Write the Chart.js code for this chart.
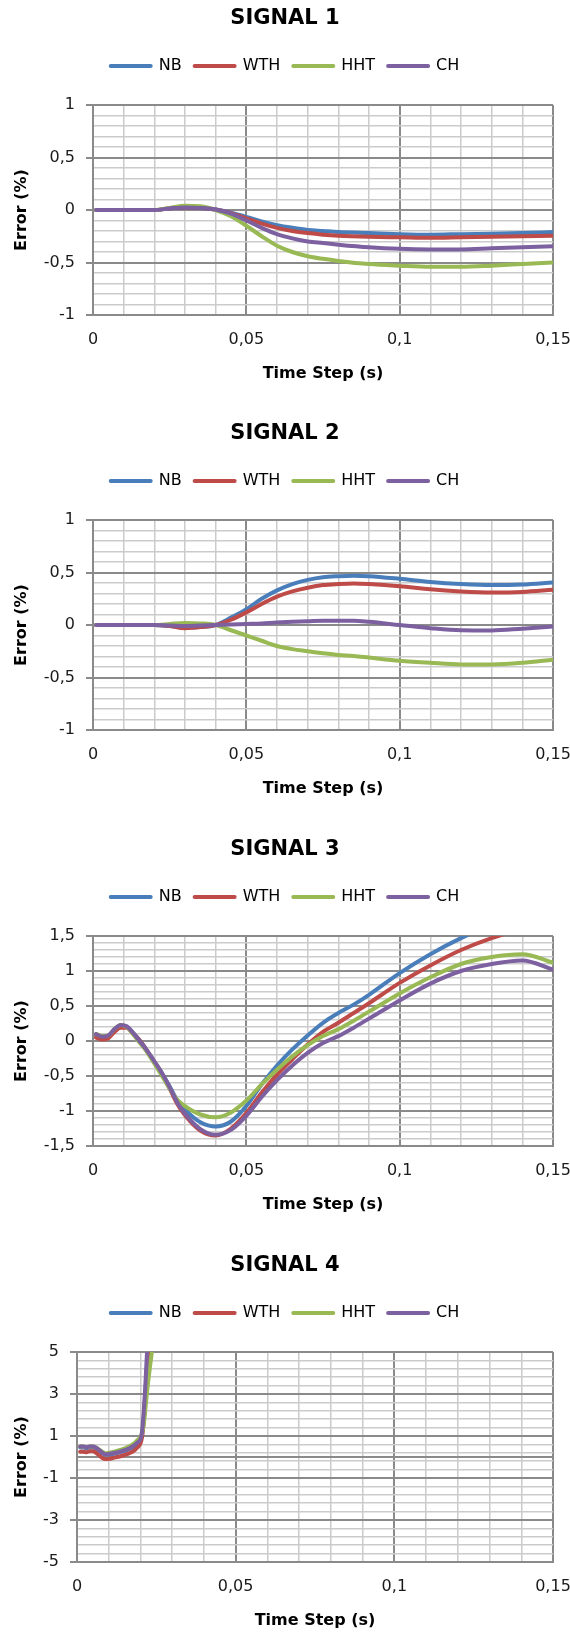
<!DOCTYPE html>
<html lang="en">
<head>
    <meta charset="UTF-8" />
    <title>Error vs Time Step</title>
    <script src="https://cdn.jsdelivr.net/npm/chart.js"></script>
    <style>
        body { margin: 0; background: #fff; }
        #page { position: relative; width: 570px; height: 1634px; }
        #page canvas { position: absolute; left: 0; }
    </style>
</head>
<body>
<div id="page">
    <canvas id="sig1" width="570" height="387" style="top:0px"></canvas>
    <canvas id="sig2" width="570" height="387" style="top:415px"></canvas>
    <canvas id="sig3" width="570" height="387" style="top:831px"></canvas>
    <canvas id="sig4" width="570" height="387" style="top:1247px"></canvas>
</div>

<script>
    const SERIES = ['NB', 'WTH', 'HHT', 'CH'];
    const COLORS = ['#4A7EBB', '#BE4B48', '#98B954', '#7D60A0'];

    // SIGNAL 1
    const time1 = [0.001, 0.005, 0.01, 0.015, 0.02, 0.025, 0.03, 0.035, 0.04, 0.045, 0.05, 0.055,
                   0.06, 0.065, 0.07, 0.075, 0.08, 0.09, 0.1, 0.11, 0.12, 0.13, 0.14, 0.15];
    const nb1  = [0, 0, 0, 0, 0, 0.015, 0.025, 0.02, 0.005, -0.025, -0.065, -0.11,
                  -0.145, -0.17, -0.19, -0.2, -0.21, -0.22, -0.23, -0.235, -0.23, -0.225, -0.22, -0.21];
    const wth1 = [0, 0, 0, 0, 0, 0.015, 0.025, 0.02, 0.005, -0.03, -0.08, -0.13,
                  -0.17, -0.2, -0.22, -0.235, -0.245, -0.255, -0.26, -0.265, -0.26, -0.255, -0.25, -0.245];
    const hht1 = [0, 0, 0, 0, 0, 0.02, 0.04, 0.035, 0, -0.06, -0.15, -0.25,
                  -0.34, -0.4, -0.44, -0.465, -0.485, -0.515, -0.53, -0.54, -0.54, -0.53, -0.515, -0.5];
    const ch1  = [0, 0, 0, 0, 0, 0.015, 0.025, 0.02, 0.005, -0.035, -0.1, -0.17,
                  -0.23, -0.27, -0.3, -0.315, -0.33, -0.355, -0.37, -0.375, -0.375, -0.365, -0.355, -0.345];

    // SIGNAL 2
    const time2 = [0.001, 0.005, 0.01, 0.015, 0.02, 0.025, 0.03, 0.035, 0.04, 0.045, 0.05, 0.055, 0.06,
                   0.065, 0.07, 0.075, 0.08, 0.085, 0.09, 0.1, 0.11, 0.12, 0.13, 0.14, 0.15];
    const nb2  = [0, 0, 0, 0, 0, -0.01, -0.025, -0.02, 0, 0.07, 0.15, 0.25, 0.33,
                  0.39, 0.43, 0.455, 0.465, 0.47, 0.465, 0.44, 0.41, 0.39, 0.38, 0.385, 0.405];
    const wth2 = [0, 0, 0, 0, 0, -0.01, -0.03, -0.02, 0, 0.05, 0.12, 0.2, 0.27,
                  0.32, 0.355, 0.38, 0.39, 0.395, 0.39, 0.37, 0.34, 0.32, 0.31, 0.315, 0.335];
    const hht2 = [0, 0, 0, 0, 0, 0.01, 0.02, 0.015, 0, -0.05, -0.1, -0.15, -0.2,
                  -0.23, -0.25, -0.27, -0.285, -0.295, -0.31, -0.34, -0.36, -0.375, -0.375, -0.36, -0.33];
    const ch2  = [0, 0, 0, 0, 0, -0.005, -0.01, -0.005, 0, 0.005, 0.01, 0.015, 0.025,
                  0.03, 0.035, 0.04, 0.04, 0.04, 0.03, 0, -0.03, -0.05, -0.052, -0.035, -0.015];

    // SIGNAL 3
    const time3 = [0.001, 0.003, 0.005, 0.007, 0.009, 0.011, 0.013, 0.015, 0.0175, 0.02, 0.0225, 0.025,
                   0.0275, 0.03, 0.035, 0.04, 0.045, 0.05, 0.055, 0.06, 0.065, 0.07, 0.075, 0.08,
                   0.085, 0.09, 0.1, 0.11, 0.12, 0.13, 0.14, 0.15];
    const nb3  = [0.08, 0.04, 0.06, 0.15, 0.21, 0.2, 0.12, 0.02, -0.13, -0.3, -0.46, -0.65,
                  -0.85, -0.98, -1.16, -1.22, -1.15, -0.93, -0.62, -0.35, -0.12, 0.08, 0.26, 0.4,
                  0.52, 0.66, 0.97, 1.24, 1.47, 1.66, 1.8, 1.88];
    const wth3 = [0.05, 0.02, 0.04, 0.13, 0.19, 0.19, 0.11, 0.02, -0.13, -0.3, -0.47, -0.68,
                  -0.9, -1.06, -1.28, -1.35, -1.25, -1.03, -0.74, -0.48, -0.26, -0.05, 0.13, 0.26,
                  0.4, 0.54, 0.83, 1.08, 1.3, 1.47, 1.6, 1.68];
    const hht3 = [0.1, 0.07, 0.08, 0.17, 0.23, 0.2, 0.1, -0.01, -0.15, -0.32, -0.5, -0.68,
                  -0.84, -0.93, -1.05, -1.09, -1.02, -0.85, -0.62, -0.41, -0.22, -0.06, 0.07, 0.17,
                  0.29, 0.42, 0.68, 0.91, 1.1, 1.2, 1.24, 1.12];
    const ch3  = [0.1, 0.06, 0.08, 0.17, 0.23, 0.21, 0.12, 0.01, -0.13, -0.29, -0.46, -0.66,
                  -0.88, -1.04, -1.26, -1.34, -1.27, -1.07, -0.8, -0.56, -0.35, -0.17, -0.03, 0.07,
                  0.19, 0.32, 0.58, 0.82, 1.0, 1.1, 1.15, 1.02];

    // SIGNAL 4
    const time4 = [0.001, 0.002, 0.003, 0.004, 0.005, 0.006, 0.007, 0.008, 0.009, 0.01, 0.012, 0.014,
                   0.016, 0.018, 0.019, 0.02, 0.0205, 0.021, 0.0215, 0.022, 0.023, 0.024, 0.025];
    const nb4  = [0.45, 0.45, 0.42, 0.45, 0.45, 0.4, 0.3, 0.18, 0.12, 0.12, 0.17, 0.25,
                  0.35, 0.5, 0.62, 0.8, 1.1, 1.8, 2.9, 4.2, 6.5, 8.5, 10];
    const wth4 = [0.25, 0.25, 0.23, 0.27, 0.27, 0.2, 0.08, -0.05, -0.1, -0.09, -0.02, 0.05,
                  0.15, 0.3, 0.45, 0.65, 0.95, 1.7, 2.8, 4.1, 6.4, 8.4, 10];
    const hht4 = [0.5, 0.5, 0.47, 0.5, 0.5, 0.45, 0.35, 0.25, 0.18, 0.2, 0.27, 0.35,
                  0.47, 0.65, 0.8, 0.95, 1.15, 1.5, 2.2, 3.0, 4.3, 5.5, 7];
    const ch4  = [0.5, 0.5, 0.46, 0.5, 0.5, 0.44, 0.33, 0.2, 0.13, 0.14, 0.2, 0.28,
                  0.38, 0.55, 0.68, 0.85, 1.2, 2.1, 3.3, 4.8, 7, 9, 11];

    Chart.defaults.font.family = '"DejaVu Sans", sans-serif';
    Chart.defaults.color = '#1a1a1a';
    Chart.defaults.animation = false;

    const MAJOR_GRID = '#8a8a8a';
    const MINOR_GRID = '#cbcbcb';

    // tick value -> "0,05" style label
    function commaNum(v) {
        return String(Math.round(v * 1000) / 1000).replace('.', ',');
    }

    function onStep(v, base, step) {
        const k = (v - base) / step;
        return Math.abs(k - Math.round(k)) < 1e-6;
    }

    // the horizontal axis of signal 4 crosses at 0, which is not a gridline
    const zeroLine = {
        id: 'zeroLine',
        beforeDatasetsDraw(chart) {
            const { ctx, chartArea, scales } = chart;
            const y = scales.y.getPixelForValue(0);
            ctx.save();
            ctx.strokeStyle = MAJOR_GRID;
            ctx.lineWidth = 2;
            ctx.beginPath();
            ctx.moveTo(chartArea.left, y);
            ctx.lineTo(chartArea.right, y);
            ctx.stroke();
            ctx.restore();
        }
    };

    function signalChart(id, title, time, series, yMin, yMax, yMinor, yMajor, axisLeft, extra) {
        const datasets = series.map((vals, i) => ({
            label: SERIES[i],
            data: time.map((t, k) => ({ x: t, y: vals[k] })),
            xAxisID: 'x',
            yAxisID: 'y',
            borderColor: COLORS[i],
            backgroundColor: COLORS[i],
            borderWidth: 4,
            borderCapStyle: 'round',
            borderJoinStyle: 'round',
            pointRadius: 0,
            cubicInterpolationMode: 'monotone',
            order: SERIES.length - i   // later series drawn on top
        }));

        const xMajor = v => onStep(v, 0, 0.05);
        const yIsMajor = v => onStep(v, yMin, yMajor);

        return new Chart(document.getElementById(id), {
            type: 'line',
            data: { datasets },
            plugins: extra ? [extra] : [],
            options: {
                responsive: false,
                devicePixelRatio: 1,
                layout: { padding: 0 },
                plugins: {
                    title: {
                        display: true,
                        text: title,
                        color: '#000',
                        font: { size: 21, weight: 'bold' },
                        padding: { top: 6.4, bottom: 13.4 }
                    },
                    legend: {
                        position: 'top',
                        labels: {
                            boxWidth: 40,
                            boxHeight: 0,
                            padding: 13,
                            color: '#000',
                            font: { size: 16 },
                            sort: (a, b) => a.datasetIndex - b.datasetIndex
                        }
                    },
                    tooltip: { enabled: false }
                },
                scales: {
                    // empty band between the legend and the plot
                    gap: {
                        type: 'linear',
                        axis: 'x',
                        position: 'top',
                        grid: { display: false },
                        border: { display: false },
                        ticks: { display: false },
                        afterFit: s => { s.height = 21; }
                    },
                    x: {
                        type: 'linear',
                        min: 0,
                        max: 0.15,
                        ticks: {
                            stepSize: 0.01,
                            autoSkip: false,
                            maxRotation: 0,
                            padding: 15,
                            font: { size: 16 },
                            callback: v => xMajor(v) ? commaNum(v) : ''
                        },
                        grid: {
                            drawTicks: false,
                            color: c => xMajor(c.tick.value) ? MAJOR_GRID : MINOR_GRID,
                            lineWidth: c => xMajor(c.tick.value) ? 2 : 1.5
                        },
                        border: { color: MAJOR_GRID, width: 2 },
                        title: {
                            display: true,
                            text: 'Time Step (s)',
                            color: '#000',
                            font: { size: 16, weight: 'bold' },
                            padding: { top: 0, bottom: 4 }
                        },
                        afterFit: s => {
                            s.height = 72;
                            s.paddingLeft = 0;
                            s.paddingRight = 17;   // last label may run to the canvas edge
                        }
                    },
                    y: {
                        min: yMin,
                        max: yMax,
                        ticks: {
                            stepSize: yMinor,
                            autoSkip: false,
                            padding: 11,
                            font: { size: 16 },
                            callback: v => yIsMajor(v) ? commaNum(v) : ''
                        },
                        grid: {
                            tickLength: 7,
                            color: c => yIsMajor(c.tick.value) ? MAJOR_GRID : MINOR_GRID,
                            tickColor: c => yIsMajor(c.tick.value) ? MAJOR_GRID : 'rgba(0,0,0,0)',
                            lineWidth: c => yIsMajor(c.tick.value) ? 2 : 1.5
                        },
                        border: { color: MAJOR_GRID, width: 2 },
                        title: {
                            display: true,
                            text: 'Error (%)',
                            color: '#000',
                            font: { size: 16, weight: 'bold' },
                            padding: { top: 12, bottom: 0 }
                        },
                        afterFit: s => { s.width = axisLeft; }
                    }
                }
            }
        });
    }

    signalChart('sig1', 'SIGNAL 1', time1, [nb1, wth1, hht1, ch1], -1, 1, 0.1, 0.5, 93);
    signalChart('sig2', 'SIGNAL 2', time2, [nb2, wth2, hht2, ch2], -1, 1, 0.1, 0.5, 93);
    signalChart('sig3', 'SIGNAL 3', time3, [nb3, wth3, hht3, ch3], -1.5, 1.5, 0.1, 0.5, 93);
    signalChart('sig4', 'SIGNAL 4', time4, [nb4, wth4, hht4, ch4], -5, 5, 0.4, 2, 77, zeroLine);
</script>
</body>
</html>
